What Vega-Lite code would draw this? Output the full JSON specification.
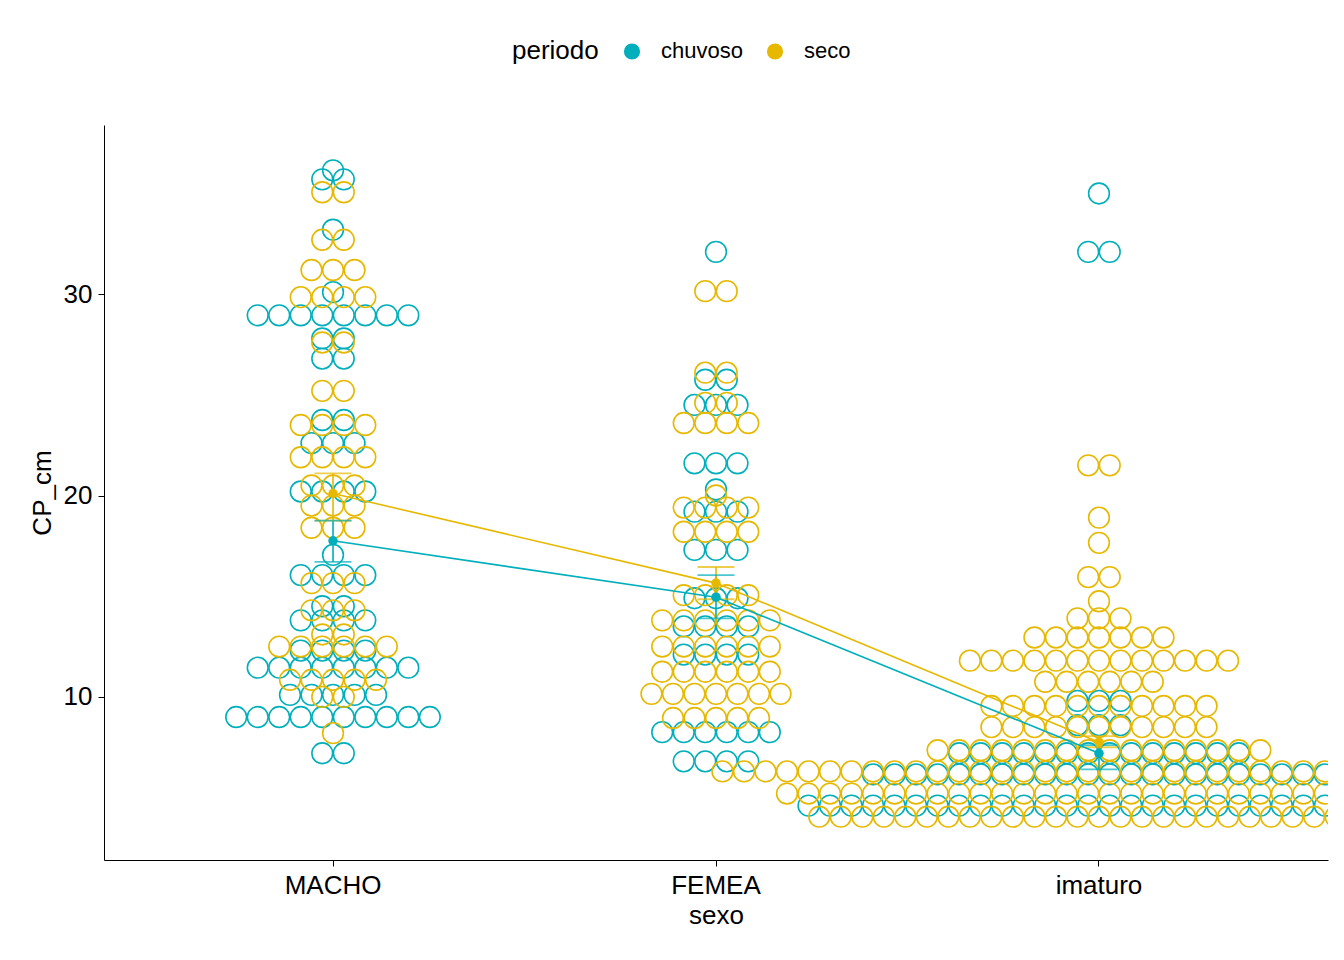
{
"$schema":"https://vega.github.io/schema/vega-lite/v6.json",
"width":1224,"height":735,"autosize":{"type":"none"},
"padding":{"left":104,"top":125,"right":16,"bottom":100},
"config":{"font":"Liberation Sans","view":{"stroke":null},
"axis":{"grid":false,"domainColor":"black","tickColor":"black","labelColor":"black","titleColor":"black","labelFontSize":26,"titleFontSize":26,"titleFontWeight":"normal","tickSize":6,"labelPadding":6,"titlePadding":4}},
"datasets":{
"means":[
{"s":"M","p":"c","m":17.75,"lo":16.7,"hi":18.75},
{"s":"F","p":"c","m":14.95,"lo":13.9,"hi":16.05},
{"s":"I","p":"c","m":7.2,"lo":6.4,"hi":7.6},
{"s":"M","p":"s","m":20.1,"lo":18.75,"hi":21.1},
{"s":"F","p":"s","m":15.65,"lo":14.85,"hi":16.45},
{"s":"I","p":"s","m":7.75,"lo":7.5,"hi":8.05}
]},
"encoding":{"x":{"field":"s","type":"nominal","sort":["M","F","I"],"scale":{"type":"band","paddingInner":0,"paddingOuter":0.098},"axis":{"title":"sexo","labelAngle":0,"labelExpr":"datum.value=='M'?'MACHO':datum.value=='F'?'FEMEA':'imaturo'"}}},
"layer":[
{"data":{"values":"s,p,y\nM,c,36.15\nM,c,35.7\nM,c,35.7\nM,c,33.2\nM,c,30.1\nM,c,28.95\nM,c,28.95\nM,c,28.95\nM,c,28.95\nM,c,28.95\nM,c,28.95\nM,c,28.95\nM,c,28.95\nM,c,27.8\nM,c,27.8\nM,c,26.8\nM,c,26.8\nM,c,23.75\nM,c,23.75\nM,c,22.6\nM,c,22.6\nM,c,22.6\nM,c,20.2\nM,c,20.2\nM,c,20.2\nM,c,20.2\nM,c,17.05\nM,c,16.05\nM,c,16.05\nM,c,16.05\nM,c,16.05\nM,c,14.5\nM,c,14.5\nM,c,13.8\nM,c,13.8\nM,c,13.8\nM,c,13.8\nM,c,12.3\nM,c,12.3\nM,c,12.3\nM,c,12.3\nM,c,11.45\nM,c,11.45\nM,c,11.45\nM,c,11.45\nM,c,11.45\nM,c,11.45\nM,c,11.45\nM,c,11.45\nM,c,10.1\nM,c,10.1\nM,c,10.1\nM,c,10.1\nM,c,10.1\nM,c,9.0\nM,c,9.0\nM,c,9.0\nM,c,9.0\nM,c,9.0\nM,c,9.0\nM,c,9.0\nM,c,9.0\nM,c,9.0\nM,c,9.0\nM,c,7.2\nM,c,7.2\nF,c,32.1\nF,c,25.75\nF,c,25.75\nF,c,24.5\nF,c,24.5\nF,c,24.5\nF,c,21.6\nF,c,21.6\nF,c,21.6\nF,c,20.3\nF,c,19.2\nF,c,19.2\nF,c,19.2\nF,c,17.3\nF,c,17.3\nF,c,17.3\nF,c,14.9\nF,c,14.9\nF,c,14.9\nF,c,13.5\nF,c,13.5\nF,c,13.5\nF,c,13.5\nF,c,12.1\nF,c,12.1\nF,c,12.1\nF,c,12.1\nF,c,8.25\nF,c,8.25\nF,c,8.25\nF,c,8.25\nF,c,8.25\nF,c,8.25\nF,c,6.8\nF,c,6.8\nF,c,6.8\nF,c,6.8\nI,c,35.0\nI,c,32.1\nI,c,32.1\nI,c,9.8\nI,c,9.8\nI,c,9.8\nI,c,8.6\nI,c,8.6\nI,c,8.6\nI,c,7.2\nI,c,7.2\nI,c,7.2\nI,c,7.2\nI,c,7.2\nI,c,7.2\nI,c,7.2\nI,c,7.2\nI,c,7.2\nI,c,7.2\nI,c,7.2\nI,c,7.2\nI,c,7.2\nI,c,7.2\nI,c,6.15\nI,c,6.15\nI,c,6.15\nI,c,6.15\nI,c,6.15\nI,c,6.15\nI,c,6.15\nI,c,6.15\nI,c,6.15\nI,c,6.15\nI,c,6.15\nI,c,6.15\nI,c,6.15\nI,c,6.15\nI,c,6.15\nI,c,6.15\nI,c,6.15\nI,c,6.15\nI,c,6.15\nI,c,6.15\nI,c,6.15\nI,c,6.15\nI,c,4.6\nI,c,4.6\nI,c,4.6\nI,c,4.6\nI,c,4.6\nI,c,4.6\nI,c,4.6\nI,c,4.6\nI,c,4.6\nI,c,4.6\nI,c,4.6\nI,c,4.6\nI,c,4.6\nI,c,4.6\nI,c,4.6\nI,c,4.6\nI,c,4.6\nI,c,4.6\nI,c,4.6\nI,c,4.6\nI,c,4.6\nI,c,4.6\nI,c,4.6\nI,c,4.6\nI,c,4.6\nI,c,4.6\nI,c,4.6\nI,c,4.6\nM,s,35.06\nM,s,35.06\nM,s,32.7\nM,s,32.7\nM,s,31.2\nM,s,31.2\nM,s,31.2\nM,s,29.85\nM,s,29.85\nM,s,29.85\nM,s,29.85\nM,s,27.6\nM,s,27.6\nM,s,25.2\nM,s,25.2\nM,s,23.5\nM,s,23.5\nM,s,23.5\nM,s,23.5\nM,s,21.9\nM,s,21.9\nM,s,21.9\nM,s,21.9\nM,s,20.5\nM,s,20.5\nM,s,20.5\nM,s,19.5\nM,s,19.5\nM,s,19.5\nM,s,18.4\nM,s,18.4\nM,s,18.4\nM,s,15.65\nM,s,15.65\nM,s,15.65\nM,s,14.3\nM,s,14.3\nM,s,14.3\nM,s,13.1\nM,s,13.1\nM,s,12.5\nM,s,12.5\nM,s,12.5\nM,s,12.5\nM,s,12.5\nM,s,12.5\nM,s,10.85\nM,s,10.85\nM,s,10.85\nM,s,10.85\nM,s,10.85\nM,s,10.0\nM,s,10.0\nM,s,8.2\nF,s,30.15\nF,s,30.15\nF,s,26.1\nF,s,26.1\nF,s,24.6\nF,s,24.6\nF,s,23.6\nF,s,23.6\nF,s,23.6\nF,s,23.6\nF,s,20.0\nF,s,19.4\nF,s,19.4\nF,s,19.4\nF,s,19.4\nF,s,18.2\nF,s,18.2\nF,s,18.2\nF,s,18.2\nF,s,15.05\nF,s,15.05\nF,s,15.05\nF,s,15.05\nF,s,13.8\nF,s,13.8\nF,s,13.8\nF,s,13.8\nF,s,13.8\nF,s,13.8\nF,s,12.5\nF,s,12.5\nF,s,12.5\nF,s,12.5\nF,s,12.5\nF,s,12.5\nF,s,11.25\nF,s,11.25\nF,s,11.25\nF,s,11.25\nF,s,11.25\nF,s,11.25\nF,s,10.15\nF,s,10.15\nF,s,10.15\nF,s,10.15\nF,s,10.15\nF,s,10.15\nF,s,10.15\nF,s,8.95\nF,s,8.95\nF,s,8.95\nF,s,8.95\nF,s,8.95\nI,s,21.5\nI,s,21.5\nI,s,18.9\nI,s,17.65\nI,s,15.95\nI,s,15.95\nI,s,14.75\nI,s,13.9\nI,s,13.9\nI,s,13.9\nI,s,12.95\nI,s,12.95\nI,s,12.95\nI,s,12.95\nI,s,12.95\nI,s,12.95\nI,s,12.95\nI,s,11.8\nI,s,11.8\nI,s,11.8\nI,s,11.8\nI,s,11.8\nI,s,11.8\nI,s,11.8\nI,s,11.8\nI,s,11.8\nI,s,11.8\nI,s,11.8\nI,s,11.8\nI,s,11.8\nI,s,10.75\nI,s,10.75\nI,s,10.75\nI,s,10.75\nI,s,10.75\nI,s,10.75\nI,s,9.55\nI,s,9.55\nI,s,9.55\nI,s,9.55\nI,s,9.55\nI,s,9.55\nI,s,9.55\nI,s,9.55\nI,s,9.55\nI,s,9.55\nI,s,9.55\nI,s,8.5\nI,s,8.5\nI,s,8.5\nI,s,8.5\nI,s,8.5\nI,s,8.5\nI,s,8.5\nI,s,8.5\nI,s,8.5\nI,s,8.5\nI,s,8.5\nI,s,7.35\nI,s,7.35\nI,s,7.35\nI,s,7.35\nI,s,7.35\nI,s,7.35\nI,s,7.35\nI,s,7.35\nI,s,7.35\nI,s,7.35\nI,s,7.35\nI,s,7.35\nI,s,7.35\nI,s,7.35\nI,s,7.35\nI,s,7.35\nI,s,6.3\nI,s,6.3\nI,s,6.3\nI,s,6.3\nI,s,6.3\nI,s,6.3\nI,s,6.3\nI,s,6.3\nI,s,6.3\nI,s,6.3\nI,s,6.3\nI,s,6.3\nI,s,6.3\nI,s,6.3\nI,s,6.3\nI,s,6.3\nI,s,6.3\nI,s,6.3\nI,s,6.3\nI,s,6.3\nI,s,6.3\nI,s,6.3\nI,s,6.3\nI,s,6.3\nI,s,6.3\nI,s,6.3\nI,s,6.3\nI,s,6.3\nI,s,6.3\nI,s,6.3\nI,s,6.3\nI,s,6.3\nI,s,6.3\nI,s,6.3\nI,s,6.3\nI,s,6.3\nI,s,5.2\nI,s,5.2\nI,s,5.2\nI,s,5.2\nI,s,5.2\nI,s,5.2\nI,s,5.2\nI,s,5.2\nI,s,5.2\nI,s,5.2\nI,s,5.2\nI,s,5.2\nI,s,5.2\nI,s,5.2\nI,s,5.2\nI,s,5.2\nI,s,5.2\nI,s,5.2\nI,s,5.2\nI,s,5.2\nI,s,5.2\nI,s,5.2\nI,s,5.2\nI,s,5.2\nI,s,5.2\nI,s,5.2\nI,s,5.2\nI,s,5.2\nI,s,5.2\nI,s,5.2\nI,s,4.05\nI,s,4.05\nI,s,4.05\nI,s,4.05\nI,s,4.05\nI,s,4.05\nI,s,4.05\nI,s,4.05\nI,s,4.05\nI,s,4.05\nI,s,4.05\nI,s,4.05\nI,s,4.05\nI,s,4.05\nI,s,4.05\nI,s,4.05\nI,s,4.05\nI,s,4.05\nI,s,4.05\nI,s,4.05\nI,s,4.05\nI,s,4.05\nI,s,4.05\nI,s,4.05\nI,s,4.05\nI,s,4.05\nI,s,4.05","format":{"type":"csv","parse":{"y":"number"}}},
"transform":[{"joinaggregate":[{"op":"count","as":"n"}],"groupby":["s","p","y"]},{"window":[{"op":"row_number","as":"r"}],"groupby":["s","p","y"]},{"calculate":"datum.r-(datum.n+1)/2","as":"k"}],
"mark":{"type":"point","shape":"circle","size":430,"strokeWidth":1.6,"filled":false,"opacity":1,"clip":true},
"encoding":{
"y":{"field":"y","type":"quantitative","scale":{"domain":[1.9,38.4],"nice":false,"zero":false},"axis":{"values":[10,20,30],"title":"CP_cm","titlePadding":8}},
"xOffset":{"field":"k","type":"quantitative","scale":{"domain":[-8.9,8.9]}},
"color":{"field":"p","type":"nominal","scale":{"domain":["c","s"],"range":["#00AFBB","#E7B800"]},
"legend":{"orient":"none","legendX":408,"legendY":-85,"direction":"horizontal","title":"periodo","titleOrient":"left","titleFontSize":26,"titleFontWeight":"normal","titleColor":"black","titlePadding":22,"labelFontSize":22,"labelColor":"black","labelOffset":18,"symbolType":"circle","symbolFillColor":"white","symbolSize":200,"symbolStrokeWidth":2,"columnPadding":20,"labelExpr":"datum.value=='c'?'chuvoso':'seco'"}}}},
{"data":{"name":"means"},"mark":{"type":"rule","strokeWidth":1.6},"encoding":{"y":{"field":"lo","type":"quantitative"},"y2":{"field":"hi"},"color":{"field":"p","type":"nominal","legend":null}}},
{"data":{"name":"means"},"mark":{"type":"tick","size":37,"thickness":1.8},"encoding":{"y":{"field":"lo","type":"quantitative"},"color":{"field":"p","type":"nominal","legend":null}}},
{"data":{"name":"means"},"mark":{"type":"tick","size":37,"thickness":1.8},"encoding":{"y":{"field":"hi","type":"quantitative"},"color":{"field":"p","type":"nominal","legend":null}}},
{"data":{"name":"means"},"mark":{"type":"line","strokeWidth":1.6},"encoding":{"y":{"field":"m","type":"quantitative"},"color":{"field":"p","type":"nominal","legend":null}}},
{"data":{"name":"means"},"mark":{"type":"point","shape":"circle","filled":true,"size":90,"opacity":1},"encoding":{"y":{"field":"m","type":"quantitative"},"color":{"field":"p","type":"nominal","legend":null}}}
]}
